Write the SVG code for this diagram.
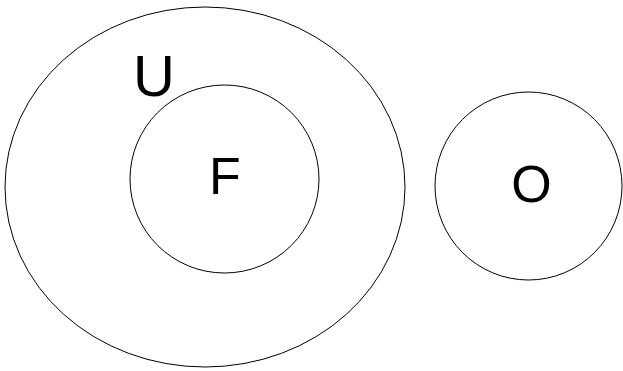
<svg xmlns="http://www.w3.org/2000/svg" width="623" height="371" viewBox="0 0 623 371">
<style>
.set{fill:none;stroke:#000;stroke-width:1}
.lbl{font-family:"Liberation Sans",Arial,sans-serif;fill:#000;text-anchor:middle}
</style>
<rect width="623" height="371" fill="#fff"/>
<g id="U">
<ellipse class="set" cx="205" cy="187" rx="200" ry="180"/>
<text class="lbl" x="154" y="96" font-size="58">U</text>
</g>
<g id="F">
<ellipse class="set" cx="224.5" cy="179" rx="94.5" ry="94"/>
<text class="lbl" x="225" y="194" font-size="52">F</text>
</g>
<g id="O">
<ellipse class="set" cx="528.5" cy="186" rx="93.5" ry="94"/>
<text class="lbl" x="531.5" y="202" font-size="52">O</text>
</g>
<g id="connectors"></g>
</svg>
